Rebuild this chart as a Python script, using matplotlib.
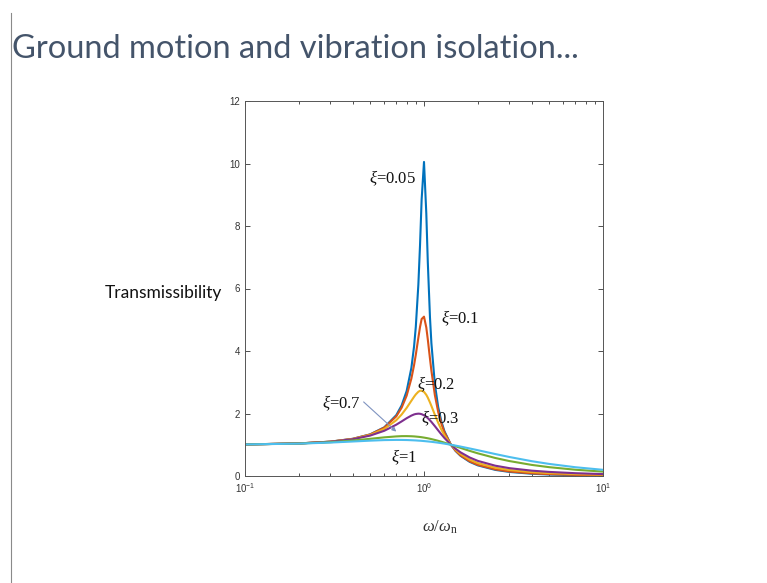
import matplotlib
matplotlib.use("Agg")
import matplotlib.pyplot as plt
from matplotlib.lines import Line2D
from matplotlib.ticker import LogLocator, NullFormatter

# ── Data ──────────────────────────────────────────────────────────────────────

freq_ratio = [0.1, 0.2, 0.3, 0.4, 0.5, 0.6, 0.7, 0.75, 0.8, 0.85, 0.88, 0.9, 0.93, 0.95, 0.97,
              1.0, 1.03, 1.05, 1.08, 1.1, 1.15, 1.2, 1.25, 1.3, 1.414, 1.5, 1.6, 1.8, 2, 2.5,
              3, 4, 5, 7, 10]

tr_005 = [1.01, 1.042, 1.099, 1.19, 1.332, 1.558, 1.947, 2.259, 2.72, 3.458, 4.146, 4.776, 6.123,
          7.379, 8.845, 10.05, 8.401, 6.852, 5.07, 4.244, 2.94, 2.208, 1.749, 1.436, 1.0, 0.803,
          0.646, 0.452, 0.339, 0.196, 0.130, 0.072, 0.047, 0.025, 0.014]
tr_01 = [1.01, 1.042, 1.099, 1.189, 1.328, 1.547, 1.909, 2.186, 2.571, 3.117, 3.549, 3.882, 4.425,
         4.766, 5.023, 5.099, 4.753, 4.373, 3.752, 3.367, 2.59, 2.052, 1.675, 1.401, 1.0, 0.812,
         0.659, 0.469, 0.356, 0.212, 0.145, 0.085, 0.059, 0.036, 0.023]
tr_02 = [1.01, 1.041, 1.097, 1.184, 1.314, 1.505, 1.785, 1.968, 2.18, 2.407, 2.536, 2.611, 2.696,
         2.727, 2.733, 2.693, 2.597, 2.509, 2.353, 2.241, 1.959, 1.704, 1.486, 1.305, 1.0, 0.841,
         0.704, 0.524, 0.413, 0.265, 0.193, 0.125, 0.093, 0.062, 0.042]
tr_03 = [1.01, 1.041, 1.095, 1.177, 1.293, 1.447, 1.642, 1.747, 1.849, 1.933, 1.970, 1.985, 1.995,
         1.991, 1.978, 1.944, 1.893, 1.852, 1.781, 1.73, 1.595, 1.46, 1.333, 1.218, 1.0, 0.873,
         0.757, 0.592, 0.483, 0.330, 0.251, 0.171, 0.131, 0.09, 0.061]
tr_07 = [1.01, 1.039, 1.082, 1.135, 1.19, 1.237, 1.267, 1.275, 1.276, 1.272, 1.267, 1.262, 1.254,
         1.248, 1.241, 1.229, 1.216, 1.207, 1.192, 1.181, 1.154, 1.126, 1.097, 1.067, 1.0, 0.952,
         0.899, 0.804, 0.725, 0.577, 0.478, 0.355, 0.283, 0.201, 0.140]
tr_1 = [1.01, 1.036, 1.07, 1.104, 1.131, 1.149, 1.155, 1.154, 1.151, 1.145, 1.141, 1.138, 1.132,
        1.129, 1.125, 1.118, 1.111, 1.106, 1.099, 1.094, 1.08, 1.066, 1.051, 1.036, 1.0, 0.973,
        0.942, 0.881, 0.825, 0.703, 0.608, 0.474, 0.387, 0.281, 0.198]

series = [tr_005, tr_01, tr_02, tr_03, tr_07, tr_1]
cores = ["#0072BD", "#D95319", "#EDB120", "#7E2F8E", "#77AC30", "#4DBEEE"]

# ── Figure ────────────────────────────────────────────────────────────────────

plt.rcParams["font.family"] = "Liberation Sans"
plt.rcParams["mathtext.fontset"] = "custom"
plt.rcParams["mathtext.rm"] = "Liberation Serif"
plt.rcParams["mathtext.it"] = "Liberation Serif:italic"

fig = plt.figure(figsize=(7.67, 5.83), dpi=100)
fig.patch.set_facecolor("white")

# slide title + left rule
fig.text(12 / 767, 1 - 49 / 583, "Ground motion and vibration isolation...",
         family="Lato", fontsize=23.5, color="#44546A", ha="left", va="center")
fig.add_artist(Line2D([10.5 / 767, 10.5 / 767], [0, 1 - 13 / 583],
                      color="#8a8a8a", lw=0.8))

ax = fig.add_axes([245 / 767, 1 - 476 / 583, 358 / 767, 375 / 583])
for tr, c in zip(series, cores):
    ax.plot(freq_ratio, tr, color=c, lw=1.5)

ax.set_xscale("log")
ax.set_xlim(0.1, 10)
ax.set_ylim(0, 12)
ax.set_yticks(range(0, 13, 2))
ax.xaxis.set_minor_locator(LogLocator(base=10, subs=range(2, 10)))
ax.xaxis.set_minor_formatter(NullFormatter())
ax.tick_params(which="both", direction="in", top=True, right=True,
               labelsize=7, colors="#333333", length=3.5, width=0.6)
ax.tick_params(which="minor", length=2)
for sp in ax.spines.values():
    sp.set_color("#555555")
    sp.set_linewidth(0.7)

# curve labels
lbl = dict(family="Liberation Serif", fontsize=12, color="#111111",
           ha="center", va="center")
ax.text(0.671, 9.54, r"$\xi$=0.05", **lbl)
ax.text(1.59, 5.06, r"$\xi$=0.1", **lbl)
ax.text(1.167, 2.94, r"$\xi$=0.2", **lbl)
ax.text(1.228, 1.86, r"$\xi$=0.3", **lbl)
ax.text(0.773, 0.61, r"$\xi$=1", **lbl)
ax.text(0.344, 2.34, r"$\xi$=0.7", **lbl)
ax.annotate("", xy=(0.70, 1.42), xytext=(0.46, 2.37),
            arrowprops=dict(arrowstyle="-|>", color="#7F93C0", lw=0.8,
                            mutation_scale=6, shrinkA=0, shrinkB=0))

fig.text(222 / 767, 1 - 293 / 583, "Transmissibility", family="Lato",
         fontsize=12.5, color="#111111", ha="right", va="center")
fig.text(440 / 767, 1 - 527 / 583, r"$\omega/\omega_{\mathrm{n}}$",
         fontsize=12, color="#333333", ha="center", va="center")

fig.savefig("out.png", dpi=100)
